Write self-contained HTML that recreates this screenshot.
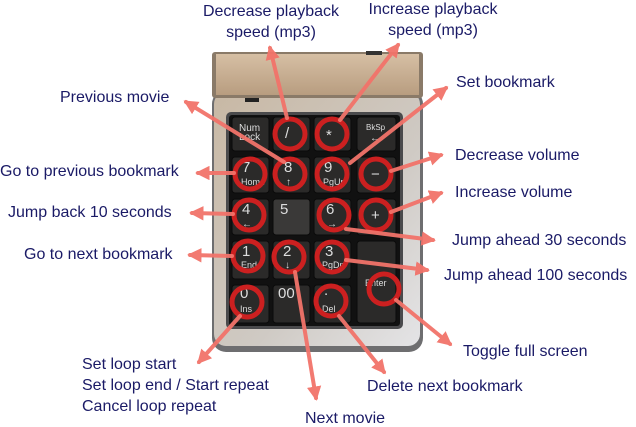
<!DOCTYPE html>
<html><head><style>
html,body{margin:0;padding:0;background:#fff;}
svg{display:block;}
text{font-family:"Liberation Sans",Arial,sans-serif;font-size:16px;fill:#1a1a66;}
.k{font-size:10px;fill:#ddd;}
.kb{font-size:15px;fill:#ddd;}
</style></head><body>
<svg width="636" height="427" viewBox="0 0 636 427" xmlns="http://www.w3.org/2000/svg">
<defs>
<marker id="a" viewBox="0 0 10 10" refX="8" refY="5" markerWidth="3.6" markerHeight="3.6" orient="auto" markerUnits="strokeWidth">
<path d="M0,0 L10,5 L0,10 z" fill="#f2736a"/></marker>
<linearGradient id="gold" x1="0" y1="0" x2="0" y2="1"><stop offset="0" stop-color="#d6bfa4"/><stop offset="1" stop-color="#b89d80"/></linearGradient>
<linearGradient id="sil" x1="0" y1="0" x2="1" y2="1"><stop offset="0" stop-color="#c8b8a4"/><stop offset="0.6" stop-color="#cfcac4"/><stop offset="1" stop-color="#e4e4e6"/></linearGradient>
</defs>
<rect x="212" y="90" width="211" height="262" rx="14" fill="#6e6e70"/>
<rect x="214" y="92" width="206" height="254" rx="12" fill="url(#sil)"/>
<rect x="212" y="52" width="211" height="46" rx="3" fill="#8a7a68"/>
<rect x="216" y="54" width="203" height="41" fill="url(#gold)"/>
<rect x="366" y="51" width="16" height="4" fill="#333"/>
<rect x="245" y="98" width="14" height="4" fill="#222"/>
<rect x="226" y="112" width="177" height="217" rx="5" fill="#4a4a4c"/>
<rect x="229" y="115" width="171" height="211" rx="3" fill="#111"/>
<g fill="#2b2a29" stroke="#0a0a0a" stroke-width="1">
<rect x="232" y="117" width="37" height="34" rx="3"/><rect x="273" y="117" width="37" height="34" rx="3"/><rect x="314" y="117" width="37" height="34" rx="3"/><rect x="357" y="117" width="39" height="34" rx="3"/>
<rect x="232" y="157" width="37" height="36" rx="3"/><rect x="273" y="157" width="37" height="36" rx="3"/><rect x="314" y="157" width="37" height="36" rx="3"/><rect x="357" y="157" width="39" height="36" rx="3"/>
<rect x="232" y="199" width="37" height="36" rx="3"/><rect x="273" y="199" width="37" height="36" rx="3" fill="#3a3938"/><rect x="314" y="199" width="37" height="36" rx="3"/><rect x="357" y="199" width="39" height="36" rx="3"/>
<rect x="232" y="241" width="37" height="38" rx="3"/><rect x="273" y="241" width="37" height="38" rx="3"/><rect x="314" y="241" width="37" height="38" rx="3"/><rect x="357" y="241" width="39" height="82" rx="3"/>
<rect x="232" y="285" width="37" height="38" rx="3"/><rect x="273" y="285" width="37" height="38" rx="3"/><rect x="314" y="285" width="37" height="38" rx="3"/>
</g>
<g>
<text class="k" x="239" y="131">Num</text><text class="k" x="239" y="140">Lock</text>
<text class="kb" x="285" y="138">/</text><text class="kb" x="326" y="140">*</text>
<text class="k" x="366" y="130" style="font-size:8px">BkSp</text><text class="k" x="370" y="141">←</text>
<text class="kb" x="242" y="172">7</text><text class="k" x="241" y="185" style="font-size:9px">Home</text>
<text class="kb" x="284" y="172">8</text><text class="k" x="286" y="185">↑</text>
<text class="kb" x="324" y="172">9</text><text class="k" x="323" y="185" style="font-size:9px">PgUp</text>
<text class="kb" x="371" y="179">−</text>
<text class="kb" x="242" y="214">4</text><text class="k" x="242" y="227">←</text>
<text class="kb" x="280" y="214">5</text>
<text class="kb" x="326" y="214">6</text><text class="k" x="327" y="227">→</text>
<text class="kb" x="371" y="220">+</text>
<text class="kb" x="242" y="256">1</text><text class="k" x="241" y="268" style="font-size:9px">End</text>
<text class="kb" x="283" y="256">2</text><text class="k" x="285" y="268">↓</text>
<text class="kb" x="325" y="256">3</text><text class="k" x="322" y="268" style="font-size:9px">PgDn</text>
<text class="k" x="365" y="286" style="font-size:9px">Enter</text>
<text class="kb" x="240" y="298">0</text><text class="k" x="240" y="312" style="font-size:9px">Ins</text>
<text class="kb" x="278" y="298">00</text>
<text class="kb" x="324" y="295">.</text><text class="k" x="322" y="312" style="font-size:9px">Del</text>
</g>
<g fill="none" stroke="#cc2020" stroke-width="5">
<circle cx="290" cy="134" r="15"/><circle cx="332" cy="134" r="15"/>
<circle cx="250" cy="174" r="15"/><circle cx="290" cy="174" r="15"/><circle cx="332" cy="174" r="15"/><circle cx="376" cy="174" r="15"/>
<circle cx="249" cy="215" r="15"/><circle cx="334" cy="215" r="15"/><circle cx="376" cy="215" r="15"/>
<circle cx="248" cy="256" r="15"/><circle cx="289" cy="257" r="15"/><circle cx="332" cy="257" r="15"/>
<circle cx="384" cy="289" r="15"/>
<circle cx="247" cy="302" r="15"/><circle cx="331" cy="301" r="15"/>
</g>
<g stroke="#f2736a" stroke-width="4" stroke-linecap="round" marker-end="url(#a)" fill="none" opacity="0.95">
<line x1="287" y1="118" x2="270" y2="48"/>
<line x1="340" y1="120" x2="398" y2="45"/>
<line x1="350" y1="163" x2="446" y2="88"/>
<line x1="284" y1="162" x2="186" y2="102"/>
<line x1="234" y1="173" x2="198" y2="173"/>
<line x1="391" y1="171" x2="441" y2="155"/>
<line x1="391" y1="212" x2="441" y2="193"/>
<line x1="233" y1="214" x2="192" y2="213"/>
<line x1="346" y1="229" x2="433" y2="240"/>
<line x1="232" y1="256" x2="190" y2="255"/>
<line x1="346" y1="260" x2="427" y2="270"/>
<line x1="396" y1="300" x2="450" y2="344"/>
<line x1="240" y1="316" x2="199" y2="362"/>
<line x1="295" y1="272" x2="316" y2="398"/>
<line x1="339" y1="316" x2="384" y2="372"/>
</g>
<text x="271" y="16" text-anchor="middle">Decrease playback</text>
<text x="271" y="37" text-anchor="middle">speed (mp3)</text>
<text x="433" y="14" text-anchor="middle">Increase playback</text>
<text x="433" y="35" text-anchor="middle">speed (mp3)</text>
<text x="456" y="87">Set bookmark</text>
<text x="60" y="102">Previous movie</text>
<text x="0" y="176">Go to previous bookmark</text>
<text x="455" y="160">Decrease volume</text>
<text x="455" y="197">Increase volume</text>
<text x="8" y="217">Jump back 10 seconds</text>
<text x="24" y="259">Go to next bookmark</text>
<text x="452" y="245">Jump ahead 30 seconds</text>
<text x="444" y="280">Jump ahead 100 seconds</text>
<text x="463" y="356">Toggle full screen</text>
<text x="367" y="391">Delete next bookmark</text>
<text x="305" y="423">Next movie</text>
<text x="82" y="369">Set loop start</text>
<text x="82" y="390">Set loop end / Start repeat</text>
<text x="82" y="411">Cancel loop repeat</text>
</svg>
</body></html>
